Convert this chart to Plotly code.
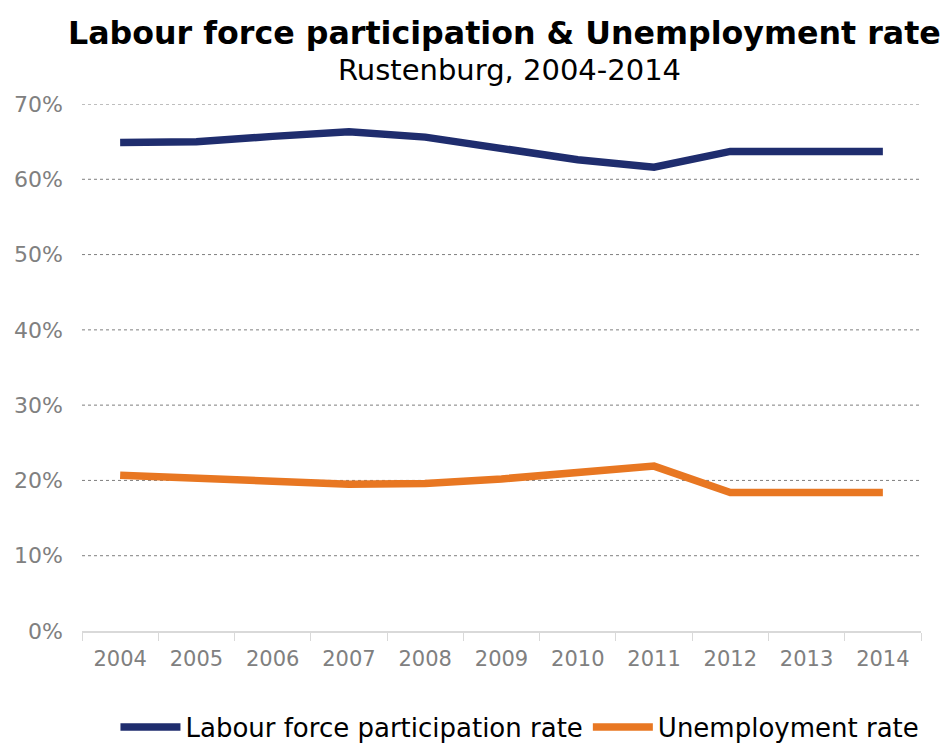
import plotly.graph_objects as go

years = ["2004", "2005", "2006", "2007", "2008", "2009", "2010", "2011", "2012", "2013", "2014"]
participation = [64.9, 65.0, 65.7, 66.3, 65.6, 64.1, 62.6, 61.6, 63.7, 63.7, 63.7]
unemployment = [20.7, 20.4, 19.9, 19.5, 19.6, 20.2, 21.0, 21.9, 18.4, 18.3, 18.4]
y_ticks = [0, 10, 20, 30, 40, 50, 60, 70]
y_tick_text = [f"{v}%" for v in y_ticks]

FONT = "DejaVu Sans, Verdana, sans-serif"
W, H = 943, 744
M_L, M_R, M_T, M_B = 82, 22, 104, 113
PLOT_H = H - M_T - M_B


def paper_y(px):
    """Convert a pixel row (from the top of the page) to paper y."""
    return (H - M_B - px) / PLOT_H


fig = go.Figure()
fig.add_trace(go.Scatter(
    x=years, y=participation, mode="lines",
    name="Labour force participation rate",
    line=dict(color="#1f2d6e", width=7.5),
))
fig.add_trace(go.Scatter(
    x=years, y=unemployment, mode="lines",
    name="Unemployment rate",
    line=dict(color="#e87722", width=7.5),
))

# dotted horizontal gridlines (0% is drawn as the solid axis line)
for v in y_ticks[1:]:
    fig.add_shape(type="line", xref="paper", x0=0, x1=1, yref="y", y0=v, y1=v,
                  line=dict(color="#7f7f7f", width=1, dash="dot"), layer="below")

# title and subtitle
fig.add_annotation(text="<b>Labour force participation & Unemployment rate</b>",
                   xref="paper", yref="paper", x=0.503, y=paper_y(33),
                   xanchor="center", yanchor="middle", showarrow=False,
                   font=dict(family=FONT, size=31.7, color="black"))
fig.add_annotation(text="Rustenburg, 2004-2014",
                   xref="paper", yref="paper", x=0.509, y=paper_y(70),
                   xanchor="center", yanchor="middle", showarrow=False,
                   font=dict(family=FONT, size=29, color="black"))

fig.update_layout(
    width=W, height=H,
    margin=dict(l=M_L, r=M_R, t=M_T, b=M_B, autoexpand=False),
    plot_bgcolor="white", paper_bgcolor="white",
    font=dict(family=FONT, color="#808080"),
    xaxis=dict(
        type="category", range=[-0.5, 10.5], automargin=False,
        showgrid=False, showline=True, linecolor="#d9d9d9", linewidth=1.5,
        ticks="outside", tickson="boundaries", ticklen=8, tickcolor="#d9d9d9",
        tickfont=dict(family=FONT, size=21, color="#808080"),
        ticklabelstandoff=8,
    ),
    yaxis=dict(
        range=[0, 70], tickvals=y_ticks, ticktext=y_tick_text, automargin=False,
        showgrid=False, zeroline=False, showline=False,
        tickfont=dict(family=FONT, size=22, color="#808080"),
        ticklabelstandoff=18,
    ),
    showlegend=True,
    legend=dict(
        orientation="h", xref="paper", yref="paper",
        x=0.522, xanchor="center", y=paper_y(727), yanchor="middle",
        font=dict(family=FONT, size=26, color="black"),
        itemwidth=60, traceorder="normal", tracegroupgap=0,
        bgcolor="rgba(0,0,0,0)",
    ),
)

fig.write_html("out.html")
